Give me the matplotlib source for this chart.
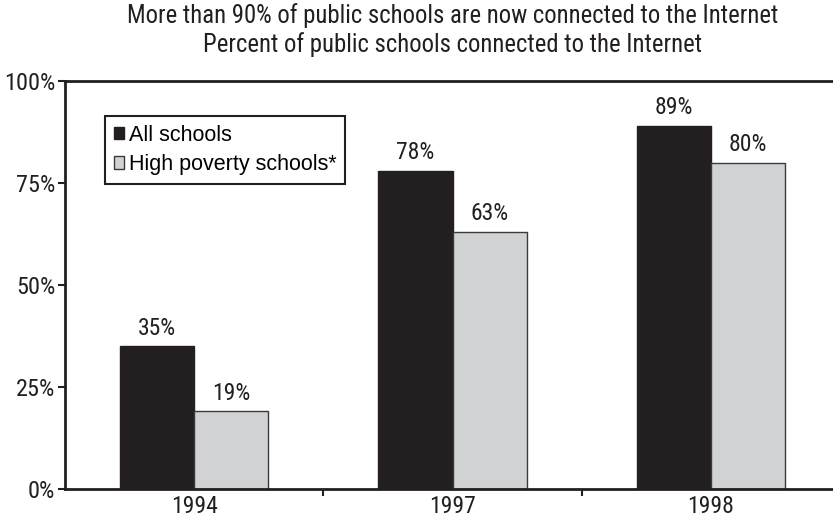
import matplotlib
matplotlib.use("Agg")
import matplotlib.pyplot as plt

# condensed face for titles/ticks, plain face for the legend
narrow = ["Roboto Condensed", "DejaVu Sans"]
plain = ["Liberation Sans", "DejaVu Sans"]

years = ["1994", "1997", "1998"]
all_schools = [35, 78, 89]
high_poverty = [19, 63, 80]
yticks = [0, 25, 50, 75, 100]

fig = plt.figure(figsize=(8.33, 5.18), dpi=100)
ax = fig.add_axes([65/833, 1 - 489/518, 775/833, 408/518])

x = list(range(len(years)))
w = 0.287
b1 = ax.bar([i - w/2 for i in x], all_schools, w, color="#231f20",
            edgecolor="#231f20", linewidth=1, label="All schools")
b2 = ax.bar([i + w/2 for i in x], high_poverty, w, color="#d1d2d4",
            edgecolor="#3a3a3a", linewidth=1, label="High poverty schools*")

for bars, vals in ((b1, all_schools), (b2, high_poverty)):
    for r, v in zip(bars, vals):
        ax.text(r.get_x() + r.get_width()/2, v + 1.6, f"{v}%", ha="center",
                va="bottom", fontsize=17, family=narrow, color="#231f20")

ax.set_xlim(-0.5, 2.5)
ax.set_ylim(0, 100)
ax.set_yticks(yticks)
ax.set_yticklabels([f"{t}%" for t in yticks], family=narrow, fontsize=17.5,
                   color="#231f20")
ax.set_xticks([0.5, 1.5, 2.5])
ax.set_xticklabels([])
ax.set_xticks(x, minor=True)
ax.set_xticklabels(years, minor=True, family=narrow, fontsize=17,
                   color="#231f20")
ax.tick_params(axis="x", which="minor", length=0, pad=4)
ax.tick_params(axis="x", which="major", direction="out", length=5, width=1.5,
               color="#231f20")
ax.tick_params(axis="y", direction="out", length=5, width=1.5, pad=2,
               color="#231f20")
for s in ax.spines.values():
    s.set_linewidth(2)
    s.set_color("#231f20")
ax.spines["right"].set_visible(False)

ax.set_title("More than 90% of public schools are now connected to the Internet\n"
             "Percent of public schools connected to the Internet",
             family=narrow, fontsize=17.8, linespacing=1.18, pad=21,
             color="#231f20")

leg = ax.legend(loc="upper left", bbox_to_anchor=(40/775, 1 - 35/408),
                handlelength=0.5, handleheight=0.5,
                handletextpad=0.2, borderpad=0.4, labelspacing=0.4,
                borderaxespad=0, fancybox=False, framealpha=1,
                edgecolor="#231f20", prop={"family": plain, "size": 15.5})
leg.get_frame().set_linewidth(1.5)

fig.savefig("out.png", dpi=100)
